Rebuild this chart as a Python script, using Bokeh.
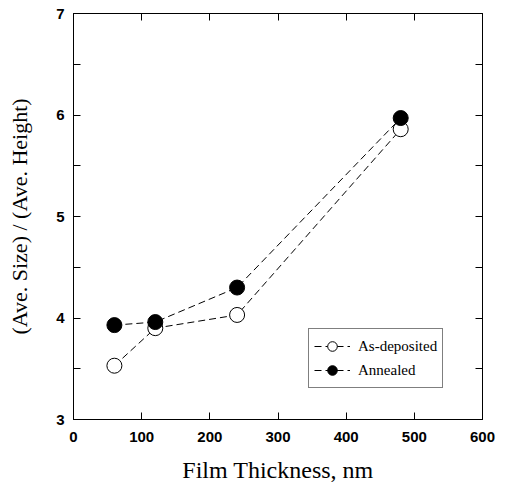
from bokeh.plotting import figure
from bokeh.models import LinearAxis, FixedTicker, Legend, LegendItem, Range1d
from bokeh.embed import file_html
from bokeh.resources import INLINE

# Data
thickness = [60, 120, 240, 480]
as_deposited = [3.53, 3.90, 4.03, 5.86]
annealed = [3.93, 3.96, 4.30, 5.97]

x_ticks = [0, 100, 200, 300, 400, 500, 600]
y_ticks = [3, 3.5, 4, 4.5, 5, 5.5, 6, 6.5, 7]
y_tick_labels = ["3", "", "4", "", "5", "", "6", "", "7"]

x_label = "Film Thickness, nm"
y_label = "(Ave. Size) / (Ave. Height)"
series_names = ["As-deposited", "Annealed"]

p = figure(frame_width=409, frame_height=406,
           x_range=Range1d(0, 600), y_range=Range1d(3, 7),
           output_backend="svg", toolbar_location=None,
           min_border_left=73, min_border_right=26,
           min_border_top=13, min_border_bottom=73)
p.grid.visible = False
p.outline_line_color = "black"
p.outline_line_width = 1
p.background_fill_color = "white"
p.border_fill_color = "white"

label_font = "Liberation Sans"
serif = "Liberation Serif"

def style_axis(ax, ticks, show_labels):
    ax.ticker = FixedTicker(ticks=ticks, minor_ticks=[])
    ax.major_tick_in = 7
    ax.major_tick_out = 0
    ax.minor_tick_in = 0
    ax.minor_tick_out = 0
    ax.axis_line_color = "black"
    ax.major_tick_line_color = "black"
    ax.major_label_text_font = label_font
    ax.major_label_text_font_size = "15px"
    ax.major_label_text_font_style = "bold"
    ax.major_label_text_color = "black"
    if not show_labels:
        ax.major_label_overrides = {t: "" for t in ticks}
        ax.major_label_standoff = 0

xa = p.xaxis[0]
style_axis(xa, x_ticks, True)
xa.major_label_standoff = 12
xa.axis_label = x_label
xa.axis_label_text_font = serif
xa.axis_label_text_font_size = "24px"
xa.axis_label_text_font_style = "normal"
xa.axis_label_text_color = "black"
xa.axis_label_standoff = 12

ya = p.yaxis[0]
style_axis(ya, y_ticks, True)
ya.major_label_overrides = {t: l for t, l in zip(y_ticks, y_tick_labels)}
ya.major_label_standoff = 9
ya.axis_label = y_label
ya.axis_label_text_font = serif
ya.axis_label_text_font_size = "22px"
ya.axis_label_text_font_style = "normal"
ya.axis_label_text_color = "black"
ya.axis_label_standoff = 21

top = LinearAxis()
style_axis(top, x_ticks, False)
p.add_layout(top, "above")
right = LinearAxis()
style_axis(right, y_ticks, False)
p.add_layout(right, "right")

l1 = p.line(thickness, as_deposited, line_color="black", line_width=1, line_dash="7 4")
s1 = p.scatter(thickness, as_deposited, marker="circle", size=15,
               fill_color="white", line_color="black", line_width=1)
l2 = p.line(thickness, annealed, line_color="black", line_width=1, line_dash="7 4")
s2 = p.scatter(thickness, annealed, marker="circle", size=15,
               fill_color="black", line_color="black", line_width=1)

legend = Legend(items=[LegendItem(label=series_names[0], renderers=[l1, s1]),
                       LegendItem(label=series_names[1], renderers=[l2, s2])],
                location=(235, 31))
legend.label_text_font = serif
legend.label_text_font_size = "15px"
legend.label_text_color = "black"
legend.border_line_color = "black"
legend.border_line_width = 1
legend.background_fill_alpha = 1
legend.glyph_width = 36
legend.glyph_height = 24
legend.label_standoff = 8
legend.spacing = 0
legend.padding = 5
legend.margin = 0
p.add_layout(legend, "center")

open("out.html", "w").write(file_html(p, INLINE))
